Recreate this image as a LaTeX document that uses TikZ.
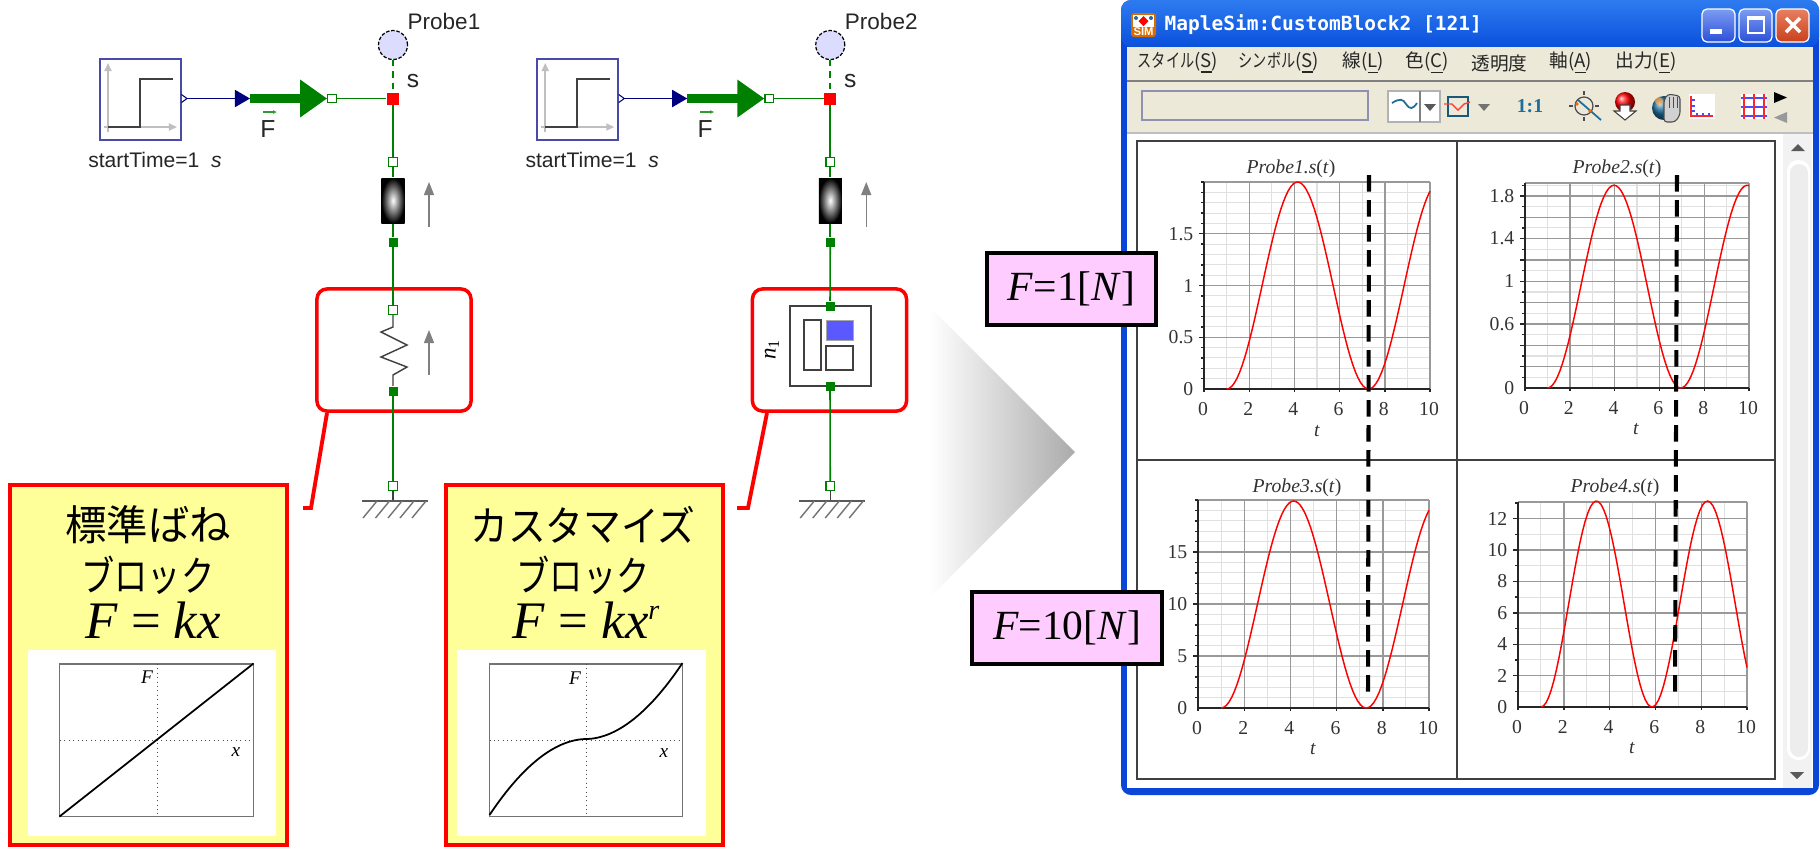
\documentclass[tikz,border=0pt]{standalone}
\usepackage{fontspec}
\setmainfont{Liberation Serif}
\setsansfont{Liberation Sans}
\newfontfamily\cjkfont{Noto Sans CJK JP}
\newfontfamily\cjknarrow[FakeStretch=0.76]{Noto Sans CJK JP}
\newfontfamily\titlefont{DejaVu Sans Mono}
\usetikzlibrary{arrows.meta,shapes.geometric}
\definecolor{forcegreen}{HTML}{008000}
\definecolor{sigblue}{HTML}{00007F}
\definecolor{blockblue}{HTML}{4A4AA8}
\definecolor{probefill}{HTML}{DCDCFF}
\definecolor{notered}{HTML}{FF0000}
\definecolor{noteyellow}{HTML}{FFFF99}
\definecolor{notepink}{HTML}{FFCCFF}
\definecolor{xpblue}{HTML}{0A46D8}
\definecolor{xptop}{HTML}{2E7BF0}
\definecolor{xpbottom}{HTML}{0A50DC}
\definecolor{xpface}{HTML}{ECE9D8}
\definecolor{btntop}{HTML}{7C9CF2}
\definecolor{btnbottom}{HTML}{2C50D8}
\definecolor{closetop}{HTML}{E88060}
\definecolor{closebottom}{HTML}{C8401C}
\definecolor{iconteal}{HTML}{1F6E9A}
\tikzset{
  portopen/.style={shape=rectangle,draw=forcegreen,fill=white,line width=0.35pt,minimum size=0.085cm,inner sep=0pt},
  portclosed/.style={shape=rectangle,fill=forcegreen,minimum size=0.09cm,inner sep=0pt},
  flange/.style={draw=forcegreen,line width=0.45pt},
  redbox/.style={shape=rectangle,draw=notered,line width=1pt,rounded corners=0.1cm,minimum width=1.54cm,minimum height=1.22cm},
  callout/.style={draw=notered,line width=1.1pt},
  notebox/.style={shape=rectangle,draw=notered,fill=noteyellow,line width=1.1pt,minimum width=2.77cm,minimum height=3.6cm},
  whitebox/.style={shape=rectangle,fill=white,minimum width=2.48cm,minimum height=1.86cm},
  graphbox/.style={shape=rectangle,draw=black!55,line width=0.3pt,minimum width=1.93cm,minimum height=1.52cm},
  notejp/.style={font=\cjkfont\fontsize{11.8}{13}\selectfont,inner sep=0pt},
  notemath/.style={font=\fontsize{15}{17}\selectfont,inner sep=0pt},
  graphlab/.style={font=\itshape\fontsize{5.5}{6}\selectfont,inner sep=0pt},
  blocklab/.style={font=\sffamily\fontsize{6.4}{7}\selectfont,text=black!85,inner sep=0pt},
  gridminor/.style={draw=black!12,line width=0.3pt},
  gridmajor/.style={draw=black!40,line width=0.4pt},
  plotaxis/.style={draw=black!85,line width=0.4pt},
  plotnum/.style={font=\fontsize{5.6}{6}\selectfont,text=black!80,inner sep=0pt},
  plottitle/.style={font=\fontsize{5.6}{7}\selectfont,text=black!80,inner sep=0pt},
  plotcurve/.style={draw=red,line width=0.42pt},
  panelline/.style={draw=black!75,line width=0.4pt},
  timeline/.style={draw=black,line width=1.15pt,dash pattern=on 4.7pt off 2.41pt},
  forcelab/.style={shape=rectangle,draw=black,fill=notepink,line width=1pt,minimum height=0.72cm,font=\fontsize{11.8}{14}\selectfont,inner sep=0pt},
  menuitem/.style={anchor=west,font=\cjkfont\fontsize{5.3}{6}\selectfont,inner sep=0pt,text=black!85},
  winbtn/.style={draw=white,line width=0.35pt,rounded corners=0.05cm}
}
\newcommand{\plotgrid}[8]{%
  \foreach \tv in {1,3,5,7,9} \draw[gridminor] ({#1+(#2-#1)*\tv/10},#3) -- ({#1+(#2-#1)*\tv/10},#4);
  \foreach \yv in {#6} \draw[gridminor] (#1,{#3-#5*\yv}) -- (#2,{#3-#5*\yv});
  \foreach \yv in {#7} \draw[gridmajor] (#1,{#3-#5*\yv}) -- (#2,{#3-#5*\yv});
  \foreach \tv in {2,4,6,8,10} \draw[gridmajor] ({#1+(#2-#1)*\tv/10},#3) -- ({#1+(#2-#1)*\tv/10},#4);
  \draw[gridmajor] (#1,#4) -- (#2,#4);
  \foreach \yv in {#6} \draw[plotaxis] ({#1-3},{#3-#5*\yv}) -- (#1,{#3-#5*\yv});
  \foreach \yv in {#7} \draw[plotaxis] ({#1-5},{#3-#5*\yv}) -- (#1,{#3-#5*\yv});
  \draw[plotaxis] (#1,#4) -- (#1,#3) -- (#2,#3);
  \foreach \tv in {0,2,4,6,8,10} {
    \draw[plotaxis] ({#1+(#2-#1)*\tv/10},#3) -- ({#1+(#2-#1)*\tv/10},{#3+3});
    \node[plotnum] (xl#1n\tv) at ({#1+(#2-#1)*\tv/10-1},{#3+20}) {\tv};
  }
  \node[plotnum,anchor=east] (yl#1z) at ({#1-10},#3) {0};
  \foreach \yv [count=\yn] in {#8} \node[plotnum,anchor=east] (yl#1n\yn) at ({#1-10},{#3-#5*\yv}) {\yv};
}
\begin{document}
\begin{tikzpicture}[x=0.01cm,y=-0.01cm,>=Latex]
\useasboundingbox (0,0) rectangle (1820,847);
\fill[white] (0,0) rectangle (1820,847);
\foreach \i/\dx in {1/0,2/4.37} {
\begin{scope}[xshift=\dx cm]
\node[shape=rectangle,draw=blockblue,line width=0.45pt,minimum size=0.81cm] (stepblk\i) at (140.5,99.5) {};
\draw[black!25,line width=0.5pt,-{Triangle[length=0.08cm,width=0.07cm]}] (108,132) -- (108,63);
\draw[black!25,line width=0.5pt,-{Triangle[length=0.08cm,width=0.07cm]}] (104,127) -- (177,127);
\draw[black!75,line width=0.45pt] (108,127) -- (140,127) -- (140,79) -- (173,79);
\node[blocklab,font=\sffamily\fontsize{6}{7}\selectfont] (stime\i) at (155,160) {startTime=1~~\textit{s}};
\draw[sigblue,line width=0.3pt] (181.5,94.5) -- (187,98.5) -- (181.5,102.5);
\coordinate (sigout\i) at (187,98.5);
\coordinate (forcein\i) at (250,98.5);
\node[portopen] (fport\i) at (332,98.5) {};
\node[shape=rectangle,fill=notered,minimum size=0.12cm,inner sep=0pt] (sensor\i) at (393,98.5) {};
\node[shape=circle,draw=black,dashed,dash pattern=on 1pt off 0.5pt,fill=probefill,line width=0.35pt,minimum size=0.29cm,inner sep=0pt] (probe\i) at (393,45) {};
\node[blocklab] (plab\i) at (444,21) {Probe\i};
\node[blocklab,font=\sffamily\fontsize{7}{8}\selectfont] (slab\i) at (413,81) {s};
\node[blocklab,font=\sffamily\fontsize{7}{8}\selectfont] (flab\i) at (268,129) {F};
\coordinate (fvecl\i) at (263,112);
\coordinate (fvecr\i) at (277,112);
\draw[forcegreen!80,line width=0.3pt,-{Latex[length=0.04cm,width=0.04cm]}] (fvecl\i) -- (fvecr\i);
\draw[sigblue,line width=0.5pt,-{Triangle[length=0.15cm,width=0.17cm]}] (sigout\i) -- (forcein\i);
\draw[forcegreen,line width=2.55pt,-{Triangle[length=0.27cm,width=0.36cm]}] (forcein\i) -- (fport\i.west);
\draw[flange] (fport\i) -- (sensor\i);
\draw[forcegreen,line width=0.45pt,dash pattern=on 1.8pt off 1.4pt] (probe\i) -- (sensor\i);
\node[portopen] (ptop\i) at (393,162) {};
\node[shape=rectangle,inner sep=0pt,minimum width=0.23cm,minimum height=0.45cm,shading=radial,inner color=white,outer color=black] (damper\i) at (393,200.5) {};
\node[portclosed] (pmid\i) at (393,242) {};
\draw[flange] (sensor\i) -- (ptop\i);
\draw[flange] (ptop\i) -- (damper\i);
\draw[flange] (damper\i) -- (pmid\i);
\coordinate (darrb\i) at (429,227);
\coordinate (darrt\i) at (429,182);
\draw[black!50,line width=0.4pt,-{Triangle[length=0.13cm,width=0.1cm]}] (darrb\i) -- (darrt\i);
\node[portopen] (pgnd\i) at (393,486) {};
\coordinate (gnd\i) at (393,501);
\draw[black!75,line width=0.4pt] (pgnd\i) -- (gnd\i);
\draw[black!65,line width=0.4pt] (362,501) -- (428,501);
\foreach \hx in {377,389.5,402,414,426} \draw[black!55,line width=0.4pt] (\hx,501) -- ++(-14,17);
\end{scope}
}
% spring on the left
\node[redbox] (boxspring) at (394,350) {};
\node[portopen] (pspra) at (393,310) {};
\node[portclosed] (psprb) at (393,391) {};
\draw[flange] (pmid1) -- (pspra);
\draw[black!75,line width=0.4pt] (pspra) -- (393,327) -- (381,332) -- (407,345) -- (381,357) -- (407,367) -- (393,375) -- (psprb);
\draw[flange] (psprb) -- (pgnd1);
\coordinate (sarrb) at (429,375);
\coordinate (sarrt) at (429,330);
\draw[black!50,line width=0.4pt,-{Triangle[length=0.13cm,width=0.1cm]}] (sarrb) -- (sarrt);
% custom block on the right
\node[redbox] (boxcustom) at (829.5,350) {};
\node[shape=rectangle,draw=black!75,line width=0.4pt,minimum width=0.81cm,minimum height=0.8cm] (custom) at (830.5,346) {};
\draw[black!75,line width=0.4pt] (804,320) rectangle (821,370);
\draw[black!75,line width=0.4pt] (826,346) rectangle (853,370);
\fill[blue!65,draw=black!35,line width=0.2pt] (826,320) rectangle (853,340);
\node[portclosed] (pcusa) at (830,306) {};
\node[portclosed] (pcusb) at (830,386) {};
\draw[flange] (pmid2) -- (pcusa);
\draw[flange] (pcusb) -- (pgnd2);
\node[rotate=90,font=\fontsize{6.5}{7}\selectfont,inner sep=0pt] (ncus) at (772,349) {\textit{n}\textsubscript{1}};
% notes
\coordinate (cala) at (327,413);
\coordinate (calb) at (311,508);
\coordinate (calc) at (303,508);
\draw[callout] (cala) -- (calb) -- (calc);
\coordinate (cbla) at (767,413);
\coordinate (cblb) at (748,508);
\coordinate (cblc) at (737,508);
\draw[callout] (cbla) -- (cblb) -- (cblc);
\node[notebox] (notea) at (148.5,665) {};
\node[notejp] (noteat) at (148,525) {標準ばね};
\node[notejp] (noteab) at (148,575) {\scalebox{0.8}[1]{ブロック}};
\node[notemath] (noteaf) at (153,620) {\textit{F} = \textit{kx}};
\node[whitebox] (whitea) at (152,743) {};
\node[graphbox] (grapha) at (156.5,740) {};
\draw[black!70,line width=0.25pt,densely dotted] (157.5,664) -- (157.5,816);
\draw[black!70,line width=0.25pt,densely dotted] (60,740) -- (253,740);
\draw[black,line width=0.5pt] (grapha.south west) -- (grapha.north east);
\node[graphlab] (graf) at (147,677) {F};
\node[graphlab] (grax) at (236,752) {x};
\node[notebox] (noteb) at (584.5,665) {};
\node[notejp] (notebt) at (583,525) {\scalebox{0.91}[1]{カスタマイズ}};
\node[notejp] (notebb) at (583,575) {\scalebox{0.8}[1]{ブロック}};
\node[notemath] (notebf) at (587,620) {\textit{F} = \textit{kx}\textsuperscript{\fontsize{8}{8}\selectfont\textit{r}}};
\node[whitebox] (whiteb) at (581.5,743) {};
\node[graphbox] (graphb) at (586,740) {};
\draw[black!70,line width=0.25pt,densely dotted] (586,664) -- (586,816);
\draw[black!70,line width=0.25pt,densely dotted] (489.5,740) -- (682.5,740);
\draw[black,line width=0.5pt] plot[domain=-1:1,samples=60] ({586+96.5*\x},{739-76*sign(\x)*abs(\x)^1.9});
\node[graphlab] (grbf) at (575,678) {F};
\node[graphlab] (grbx) at (664,753) {x};
% big arrow
\shade[left color=white,right color=black!33] (930,307) -- (1075,452) -- (930,597) -- cycle;
% window frame
\fill[xpblue,rounded corners=0.1cm] (1121,795) -- (1121,0) -- (1819,0) -- (1819,795) -- cycle;
\shade[top color=xptop,bottom color=xpbottom,rounded corners=0.1cm] (1121,47) -- (1121,0) -- (1819,0) -- (1819,47) -- cycle;
\fill[xpface] (1127,47) rectangle (1813,134);
\fill[white] (1127,134) rectangle (1813,788);
\draw[black!50,line width=0.5pt] (1127,81) -- (1813,81);
\draw[black!25,line width=0.5pt] (1127,133) -- (1813,133);
% title bar
\fill[orange!85!black,rounded corners=0.03cm] (1131,13) rectangle (1156,37);
\fill[white] (1133,15) rectangle (1154,27);
\fill[red] (1143.5,16) -- (1148.5,21) -- (1143.5,26) -- (1138.5,21) -- cycle;
\fill[iconteal] (1136,18) circle (0.02cm) (1151,18) circle (0.02cm);
\node[font=\sffamily\bfseries\fontsize{3.2}{4}\selectfont,text=white,inner sep=0pt] (titleicon) at (1143.5,32) {SIM};
\node[anchor=west,font=\titlefont\bfseries\fontsize{5.55}{7}\selectfont,text=white,inner sep=0pt] (wintitle) at (1164,25) {MapleSim:CustomBlock2 [121]};
\shade[top color=btntop,bottom color=btnbottom,winbtn] (1702,9) rectangle (1735,42);
\fill[white] (1710,29) rectangle (1722,34);
\shade[top color=btntop,bottom color=btnbottom,winbtn] (1739,9) rectangle (1772,42);
\draw[white,line width=0.4pt] (1748,17) rectangle (1764,33);
\fill[white] (1748,17) rectangle (1764,20);
\shade[top color=closetop,bottom color=closebottom,winbtn] (1776,9) rectangle (1809,42);
\draw[white,line width=1pt] (1786,18) -- (1800,32) (1800,18) -- (1786,32);
% menu
\foreach \mx/\mtext in {1137/{{\cjknarrow スタイル}(\underline{S})},1238/{{\cjknarrow シンボル}(\underline{S})},1342/{線(\underline{L})},1405/{色(\underline{C})},1471/{透明度},1549/{軸(\underline{A})},1615/{出力(\underline{E})}}
  \node[menuitem] (menu\mx) at (\mx,63) {\mtext};
% toolbar
\draw[black!20!blue!25!gray!70,line width=0.45pt] (1142,91) rectangle (1368,120);
\fill[white] (1388,91) rectangle (1440,122);
\draw[black!30,line width=0.3pt] (1388,91) rectangle (1440,122);
\draw[black!50,line width=0.4pt] (1420,91) -- (1420,122);
\draw[iconteal,line width=0.5pt] (1392,103) .. controls (1400,98) and (1403,99) .. (1406,104) .. controls (1410,110) and (1413,109) .. (1417,103);
\fill[black!65] (1424,104) -- (1436,104) -- (1430,111) -- cycle;
\draw[iconteal!80!black,line width=0.6pt] (1448,97) rectangle (1468,116);
\draw[red!75,line width=0.4pt] (1444,104) -- (1452,104) -- (1458,110) -- (1464,104) -- (1470,102);
\fill[black!55] (1478,104) -- (1490,104) -- (1484,111) -- cycle;
\node[font=\bfseries\fontsize{5.6}{7}\selectfont,text=iconteal,inner sep=0pt] (oneone) at (1530,106) {1:1};
\draw[black!70,line width=0.35pt] (1584,106) circle (0.09cm);
\draw[black!70,line width=0.35pt] (1584,91) -- (1584,95) (1584,117) -- (1584,121) (1569,106) -- (1573,106) (1595,106) -- (1599,106);
\draw[iconteal,line width=0.5pt] (1578,100) -- (1601,120);
\fill[orange!80!red] (1577,104) circle (0.018cm) (1590,111) circle (0.018cm);
\shade[ball color=red] (1625,102) circle (0.1cm);
\fill[white,draw=black!75,line width=0.3pt] (1620,105) -- (1630,105) -- (1630,111) -- (1636,111) -- (1625,120) -- (1614,111) -- (1620,111) -- cycle;
\shade[ball color=iconteal] (1664,108) circle (0.12cm);
\fill[orange!70,opacity=0.7] (1659,101) circle (0.04cm);
\fill[black!18,draw=black!70,line width=0.3pt,rounded corners=0.03cm] (1664,122) -- (1664,100) -- (1668,94) -- (1680,96) -- (1680,115) -- (1675,122) -- cycle;
\draw[black!70,line width=0.25pt] (1669,97) -- (1669,108) (1673,97) -- (1673,108) (1677,97) -- (1677,108);
\fill[white] (1689,94) rectangle (1715,119);
\draw[red!85,line width=0.5pt] (1691,96) -- (1691,116) -- (1713,116);
\draw[blue!70,line width=0.3pt] (1691,100) -- (1695,100) (1691,106) -- (1695,106) (1691,111) -- (1695,111) (1697,116) -- (1697,113) (1703,116) -- (1703,113) (1709,116) -- (1709,113);
\fill[white] (1741,94) rectangle (1767,119);
\draw[blue!70,line width=0.45pt] (1741,98) -- (1767,98) (1741,107) -- (1767,107) (1741,116) -- (1767,116);
\draw[red!85,line width=0.45pt] (1744,94) -- (1744,119) (1754,94) -- (1754,119) (1764,94) -- (1764,119);
\fill[black] (1774,92) -- (1787,97.5) -- (1774,103) -- cycle;
\fill[black!40] (1787,112) -- (1774,117.5) -- (1787,123) -- cycle;
% scroll bar
\fill[black!5] (1783,134) rectangle (1812,788);
\fill[white,rounded corners=0.11cm] (1787,160) rectangle (1810,760);
\fill[black!7,rounded corners=0.09cm] (1790,164) rectangle (1808,757);
\fill[black!65] (1791,151) -- (1805,151) -- (1798,144) -- cycle;
\fill[black!65] (1790,772) -- (1804,772) -- (1797,779) -- cycle;
% plot panels
\draw[panelline] (1137,141) rectangle (1775,779);
\draw[panelline] (1457,141) -- (1457,779);
\draw[panelline] (1137,460) -- (1775,460);
\plotgrid{1204}{1430}{389}{182}{103.5}{0.1,0.2,...,2.0}{0.5,1,1.5}{0.5,1,1.5}
\plotgrid{1525}{1749}{388}{183}{106.7}{0.1,0.3,...,1.9}{0.2,0.4,...,1.8}{0.6,1,1.4,1.8}
\plotgrid{1198}{1429}{708}{500}{10.4}{1,2,...,20}{5,10,15}{5,10,15}
\plotgrid{1518}{1747}{707}{502}{15.7}{1,3,...,13}{2,4,...,12}{2,4,...,12}
\draw[plotcurve] plot[domain=1:10,samples=80] ({1204+22.6*\x},{389-103.5*(1-cos(deg(\x-1)))});
\draw[plotcurve] plot[domain=1:10,samples=80] ({1525+22.4*\x},{388-101.4*(1-cos(deg(2*pi*(\x-1)/5.95)))});
\draw[plotcurve] plot[domain=1:10,samples=80] ({1198+23.1*\x},{708-103.5*(1-cos(deg(\x-1)))});
\draw[plotcurve] plot[domain=1:10,samples=80] ({1518+22.9*\x},{707-103*(1-cos(deg(2*pi*(\x-1)/4.85)))});
\node[plottitle] (ttlone) at (1291,169) {\textit{Probe1.s}(\textit{t})};
\node[plottitle] (ttltwo) at (1617,169) {\textit{Probe2.s}(\textit{t})};
\node[plottitle] (ttlthree) at (1297,488) {\textit{Probe3.s}(\textit{t})};
\node[plottitle] (ttlfour) at (1615,488) {\textit{Probe4.s}(\textit{t})};
\node[plottitle] (tone) at (1317,431) {\textit{t}};
\node[plottitle] (ttwo) at (1636,429) {\textit{t}};
\node[plottitle] (tthree) at (1313,749) {\textit{t}};
\node[plottitle] (tfour) at (1632,748) {\textit{t}};
% time markers
\coordinate (marka) at (1369,175);
\coordinate (markb) at (1368,695);
\coordinate (markc) at (1677,175);
\coordinate (markd) at (1675,695);
\draw[timeline] (marka) -- (markb);
\draw[timeline] (markc) -- (markd);
% force labels
\node[forcelab,minimum width=1.69cm] (forceone) at (1071.5,289) {\textit{F}=1[\textit{N}]};
\node[forcelab,minimum width=1.9cm] (forceten) at (1067,628) {\textit{F}=10[\textit{N}]};
\end{tikzpicture}
\end{document}
